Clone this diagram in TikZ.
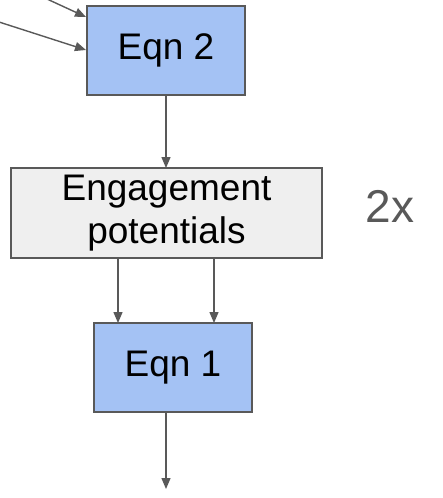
\documentclass[tikz,border=0pt]{standalone}
\usepackage{fontspec}
\setmainfont{Liberation Sans}
\usetikzlibrary{arrows.meta}
\definecolor{edge}{HTML}{595959}
\definecolor{bluefill}{HTML}{A4C2F4}
\definecolor{greyfill}{HTML}{EFEFEF}
\tikzset{
  box/.style={draw=edge, line width=1.6pt, inner sep=0pt, outer sep=0pt, anchor=north west},
  eqnbox/.style={box, fill=bluefill, minimum width=158pt, minimum height=89pt, font=\fontsize{37}{41}\selectfont},
  engbox/.style={box, fill=greyfill, minimum width=311pt, minimum height=90pt, align=center, font=\fontsize{37}{43}\selectfont},
  conn/.style={draw=edge, line width=1.4pt, -{Triangle[length=11pt,width=9pt]}}
}
\begin{document}
\begin{tikzpicture}[x=1pt,y=-1pt]
\useasboundingbox (0,0) rectangle (442,498);
\node[eqnbox] (eqn2) at (87,6) {Eqn 2};
\node[engbox] (eng) at (11,168) {Engagement\\potentials};
\node[eqnbox] (eqn1) at (94,323) {Eqn 1};
\node[text=edge, font=\fontsize{46}{50}\selectfont] (two) at (390,206) {2x};
\coordinate (in1) at (47,-1);
\coordinate (in2) at (-1,22);
\coordinate (t1) at (86,17);
\coordinate (t2) at (86,50);
\coordinate (out) at (166,489);
\draw[conn] (in1) -- (t1);
\draw[conn] (in2) -- (t2);
\draw[conn] (eqn2.south -| 166,0) -- (eng.north -| 166,0);
\draw[conn] (eng.south -| 118,0) -- (eqn1.north -| 118,0);
\draw[conn] (eng.south -| 214,0) -- (eqn1.north -| 214,0);
\draw[conn] (eqn1.south -| 166,0) -- (out);
\end{tikzpicture}
\end{document}
